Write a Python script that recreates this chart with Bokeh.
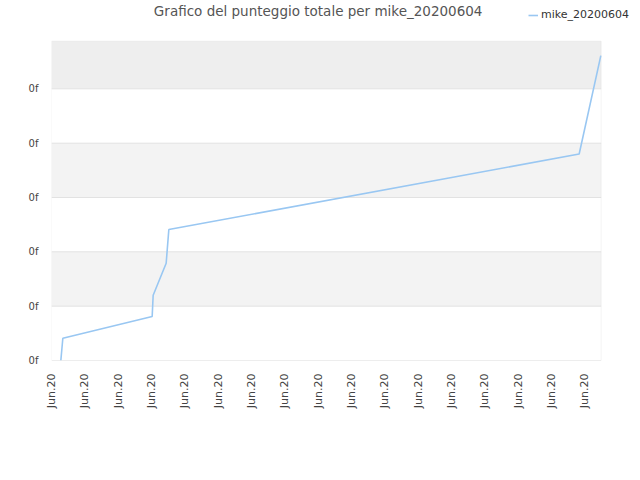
from bokeh.plotting import figure
from bokeh.models import Range1d, FixedTicker, BoxAnnotation, Legend, LegendItem, Label
from bokeh.embed import file_html
from bokeh.resources import INLINE

title_text = "Grafico del punteggio totale per mike_20200604"
series_name = "mike_20200604"

# x positions in units of one tick interval, y in units of one grid step
x_vals = [0.28, 0.34, 3.02, 3.05, 3.44, 3.52, 15.83, 16.48]
y_vals = [0.0, 0.41, 0.81, 1.20, 1.79, 2.41, 3.80, 5.61]

x_ticks = list(range(17))
x_tick_labels = ["Jun.20"] * 17
y_ticks = [0, 1, 2, 3, 4, 5]
y_tick_labels = ["0f"] * 6

X_MAX = 16.49   # right edge of the plotting box
Y_MAX = 5.877   # top edge of the plotting box

FONT = "DejaVu Sans"

p = figure(width=632, height=472, output_backend="svg", toolbar_location=None,
           x_range=Range1d(0, 17.43), y_range=Range1d(0, 6.626),
           min_border_left=51, min_border_right=0, min_border_top=0,
           min_border_bottom=112)

p.outline_line_color = None
p.background_fill_color = "white"
p.border_fill_color = "white"
p.xgrid.grid_line_color = None
p.ygrid.grid_line_color = None

# alternating bands
p.add_layout(BoxAnnotation(left=0, right=X_MAX, bottom=1, top=2, fill_color="#f3f3f3",
                           fill_alpha=1, line_color=None, level="underlay"))
p.add_layout(BoxAnnotation(left=0, right=X_MAX, bottom=3, top=4, fill_color="#f3f3f3",
                           fill_alpha=1, line_color=None, level="underlay"))
p.add_layout(BoxAnnotation(left=0, right=X_MAX, bottom=5, top=Y_MAX, fill_color="#eeeeee",
                           fill_alpha=1, line_color=None, level="underlay"))

# horizontal grid lines
p.segment(x0=[0] * len(y_ticks), y0=y_ticks, x1=[X_MAX] * len(y_ticks), y1=y_ticks,
          line_color="#e2e2e2", line_width=1)

# plot box outline
p.add_layout(BoxAnnotation(left=0, right=X_MAX, bottom=0, top=Y_MAX, fill_alpha=0,
                           line_color="#d9d9d9", line_width=1, level="overlay"))

p.xaxis.ticker = FixedTicker(ticks=x_ticks)
p.xaxis.major_label_overrides = {t: l for t, l in zip(x_ticks, x_tick_labels)}
p.xaxis.major_label_orientation = 1.5707963
p.yaxis.ticker = FixedTicker(ticks=y_ticks)
p.yaxis.major_label_overrides = {t: l for t, l in zip(y_ticks, y_tick_labels)}

for ax in (p.xaxis, p.yaxis):
    ax.axis_line_color = None
    ax.major_tick_line_color = None
    ax.minor_tick_line_color = None
    ax.major_label_text_font = FONT
    ax.major_label_text_color = "#444444"
p.xaxis.major_label_text_font_size = "11px"
p.yaxis.major_label_text_font_size = "10px"
p.xaxis.major_label_standoff = 7
p.yaxis.major_label_standoff = 7

r = p.line(x_vals, y_vals, line_color="#99c7f2", line_width=1.6)

p.add_layout(Label(x=8.0, y=6.424, text=title_text, text_align="center",
                   text_baseline="middle", text_font=FONT, text_font_size="13.5px",
                   text_color="#555555"))

legend = Legend(items=[LegendItem(label=series_name, renderers=[r])],
                location=(477, 339), padding=0, margin=0, spacing=0,
                glyph_width=10, glyph_height=12, label_height=12,
                label_standoff=3, border_line_color=None,
                background_fill_alpha=0, label_text_font=FONT,
                label_text_font_size="11px", label_text_color="#333333")
p.add_layout(legend, "center")

open("out.html", "w").write(file_html(p, INLINE))
